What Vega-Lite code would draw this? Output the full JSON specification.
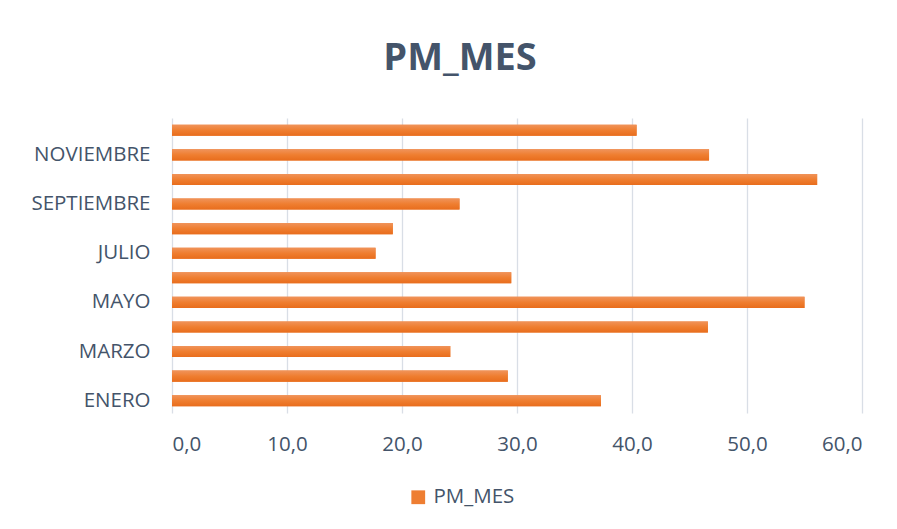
{
  "$schema": "https://vega.github.io/schema/vega-lite/v6.json",
  "autosize": {"type": "none"},
  "width": 690,
  "height": 295,
  "padding": {"left": 172, "top": 118, "right": 35, "bottom": 116},
  "background": "white",
  "title": {
    "text": "PM_MES",
    "font": "Open Sans",
    "fontSize": 38,
    "fontWeight": "bold",
    "color": "#44546A",
    "anchor": "middle",
    "frame": "group",
    "dx": -57,
    "offset": 40
  },
  "data": {
    "values": [
      {"mes": "ENERO", "valor": 37.3, "serie": "PM_MES"},
      {"mes": "FEBRERO", "valor": 29.2, "serie": "PM_MES"},
      {"mes": "MARZO", "valor": 24.2, "serie": "PM_MES"},
      {"mes": "ABRIL", "valor": 46.6, "serie": "PM_MES"},
      {"mes": "MAYO", "valor": 55.0, "serie": "PM_MES"},
      {"mes": "JUNIO", "valor": 29.5, "serie": "PM_MES"},
      {"mes": "JULIO", "valor": 17.7, "serie": "PM_MES"},
      {"mes": "AGOSTO", "valor": 19.2, "serie": "PM_MES"},
      {"mes": "SEPTIEMBRE", "valor": 25.0, "serie": "PM_MES"},
      {"mes": "OCTUBRE", "valor": 56.1, "serie": "PM_MES"},
      {"mes": "NOVIEMBRE", "valor": 46.7, "serie": "PM_MES"},
      {"mes": "DICIEMBRE", "valor": 40.4, "serie": "PM_MES"}
    ]
  },
  "encoding": {
    "y": {
      "field": "mes",
      "type": "nominal",
      "sort": ["DICIEMBRE", "NOVIEMBRE", "OCTUBRE", "SEPTIEMBRE", "AGOSTO", "JULIO", "JUNIO", "MAYO", "ABRIL", "MARZO", "FEBRERO", "ENERO"],
      "scale": {"paddingInner": 0.55, "paddingOuter": 0.275},
      "axis": {
        "title": null,
        "values": ["ENERO", "MARZO", "MAYO", "JULIO", "SEPTIEMBRE", "NOVIEMBRE"],
        "domain": false,
        "ticks": false,
        "grid": false,
        "labelFont": "Open Sans",
        "labelFontSize": 20.5,
        "labelColor": "#44546A",
        "labelPadding": 22
      }
    },
    "x": {
      "field": "valor",
      "type": "quantitative",
      "scale": {"domain": [0, 60], "nice": false},
      "axis": {
        "title": null,
        "values": [0, 10, 20, 30, 40, 50, 60],
        "labelExpr": "replace(format(datum.value, '.1f'), '.', ',')",
        "domain": false,
        "ticks": false,
        "grid": true,
        "gridColor": "#D9DEE6",
        "gridWidth": 1.3,
        "labelFont": "Open Sans",
        "labelFontSize": 20.5,
        "labelColor": "#44546A",
        "labelPadding": 21
      }
    }
  },
  "layer": [
    {
      "mark": {"type": "bar"},
      "encoding": {
        "color": {
          "field": "serie",
          "type": "nominal",
          "scale": {"range": ["#EE7E32"]},
          "legend": {
            "title": null,
            "orient": "none",
            "legendX": 236,
            "legendY": 369,
            "direction": "horizontal",
            "symbolType": "square",
            "symbolSize": 190,
            "symbolStrokeWidth": 0,
            "labelFont": "Open Sans",
            "labelFontSize": 20.5,
            "labelColor": "#44546A",
            "labelOffset": 5
          }
        }
      }
    },
    {
      "mark": {
        "type": "bar",
        "fill": {
          "gradient": "linear",
          "x1": 0, "y1": 0, "x2": 0, "y2": 1,
          "stops": [
            {"offset": 0, "color": "#F0935A"},
            {"offset": 0.5, "color": "#EF7E30"},
            {"offset": 1, "color": "#E86D1D"}
          ]
        }
      },
      "encoding": {}
    }
  ],
  "config": {
    "view": {"stroke": null}
  }
}
